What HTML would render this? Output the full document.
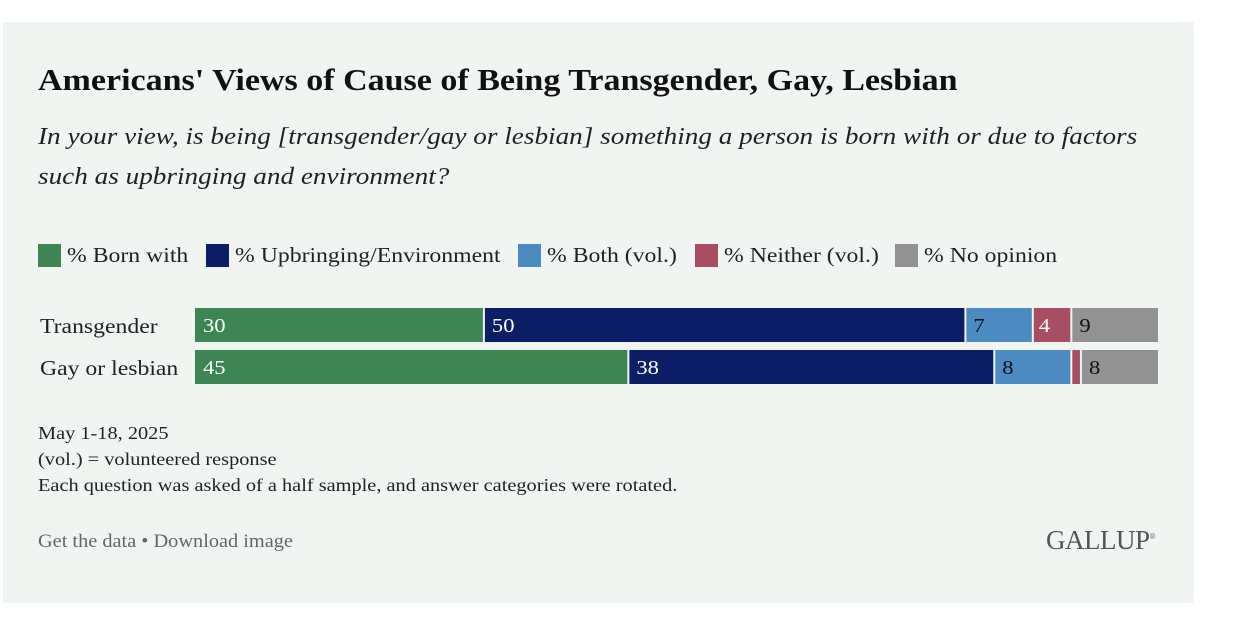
<!DOCTYPE html>
<html><head><meta charset="utf-8"><style>
body{margin:0;width:1260px;height:622px;background:#fff;font-family:"Liberation Serif",serif;position:relative;overflow:hidden}
#panel{position:absolute;left:3px;top:22px;width:1191px;height:581px;background:#f1f5f2}
.t{position:absolute;white-space:nowrap;color:#111;transform-origin:0 0}
.leg{position:absolute;top:243px;font-size:21px;color:#222;display:flex;align-items:center;white-space:nowrap}
.leg span.sw{display:inline-block;width:23px;height:23px;margin-right:6px}
.leg span.lt{display:inline-block;transform:scaleX(1.13);transform-origin:0 50%}
</style></head><body>
<div id="panel"></div>
<div class="t" style="left:38px;top:62px;font-size:31px;font-weight:bold;transform:scaleX(1.097)">Americans' Views of Cause of Being Transgender, Gay, Lesbian</div>
<div class="t" style="left:38px;top:117px;font-size:24px;font-style:italic;line-height:40px;color:#222;transform:scaleX(1.133)">In your view, is being [transgender/gay or lesbian] something a person is born with or due to factors<br>such as upbringing and environment?</div>
<div class="leg" style="left:38px"><span class="sw" style="background:#3d8654"></span><span class="lt">% Born with</span></div>
<div class="leg" style="left:206px"><span class="sw" style="background:#0c1f66"></span><span class="lt">% Upbringing/Environment</span></div>
<div class="leg" style="left:518px"><span class="sw" style="background:#4b8bc1"></span><span class="lt">% Both (vol.)</span></div>
<div class="leg" style="left:695px"><span class="sw" style="background:#a84e62"></span><span class="lt">% Neither (vol.)</span></div>
<div class="leg" style="left:895px"><span class="sw" style="background:#929292"></span><span class="lt">% No opinion</span></div>
<svg id="chart" width="1260" height="622" style="position:absolute;left:0;top:0"></svg>
<div class="t" style="left:38px;top:420px;font-size:18px;line-height:26px;color:#222;transform:scaleX(1.13)">May 1-18, 2025<br>(vol.) = volunteered response<br>Each question was asked of a half sample, and answer categories were rotated.</div>
<div class="t" style="left:38px;top:531px;font-size:19px;color:#666;transform:scaleX(1.07)">Get the data • Download image</div>
<div class="t" style="left:1046px;top:525px;font-size:27px;color:#555;letter-spacing:-0.5px">GALLUP<sup style="font-size:8px">®</sup></div>
<script>
const categories=["Transgender","Gay or lesbian"];
const bornWith=[30,45];
const upbringing=[50,38];
const both=[7,8];
const neither=[4,1];
const noOpinion=[9,8];
const seriesNames=["born-with","upbringing","both","neither","no-opinion"];
const colors=["#3d8654","#0c1f66","#4b8bc1","#a84e62","#929292"];
const textColors=["#fff","#fff","#111","#fff","#111"];
const series=[bornWith,upbringing,both,neither,noOpinion];
const svg=document.getElementById('chart');
const NS="http://www.w3.org/2000/svg";
const x0=195,x1=1158,rowTop=308,rowH=34,rowStep=42;
function xScale(v){return x0+(x1-x0)*v/100;}
categories.forEach((c,i)=>{
  const y=rowTop+i*rowStep;
  const lab=document.createElementNS(NS,'text');
  
  
  lab.setAttribute('transform','translate(40,'+(y+25)+') scale(1.13,1)');
  lab.setAttribute('font-size','21');lab.setAttribute('fill','#222');
  lab.setAttribute('font-family','Liberation Serif, serif');
  lab.textContent=c;svg.appendChild(lab);
  let cum=0;
  series.forEach((s,k)=>{
    const v=s[i];
    const xa=xScale(cum),xb=xScale(cum+v);
    const r=document.createElementNS(NS,'rect');
    
    
    r.setAttribute('x',xa+(cum>0?1:0));r.setAttribute('y',y);
    r.setAttribute('width',Math.max(xb-xa-(cum>0?1:0)-(cum+v<100?1:0),1));r.setAttribute('height',rowH);
    r.setAttribute('fill',colors[k]);svg.appendChild(r);
    if(v>=2){
      const t=document.createElementNS(NS,'text');
      
      
      t.setAttribute('transform','translate('+(xa+(v<5?6:8))+','+(y+24)+') scale(1.13,1)');
      t.setAttribute('font-size','20');t.setAttribute('fill',textColors[k]);
      t.setAttribute('font-family','Liberation Serif, serif');
      t.textContent=v;svg.appendChild(t);
    }
    cum+=v;
  });
});
</script>
</body></html>
